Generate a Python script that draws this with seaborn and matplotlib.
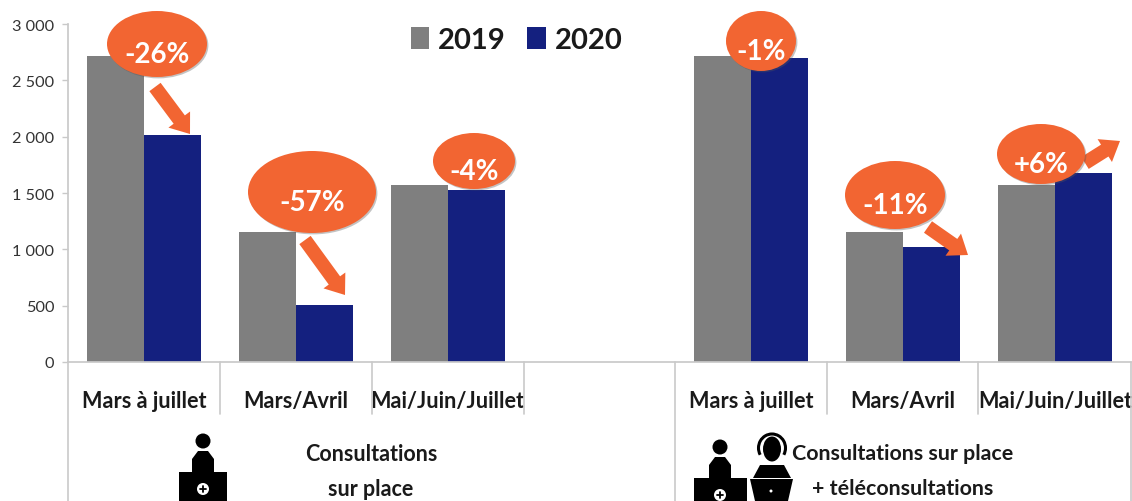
import pandas as pd
import matplotlib
matplotlib.use("Agg")
import matplotlib.pyplot as plt
import matplotlib.patheffects as pe
from matplotlib.patches import Circle, Ellipse, Polygon, Rectangle, Arc
import seaborn as sns

# ==========================================
# DATA
# ==========================================

slots = ["a1", "a2", "a3", "gap", "b1", "b2", "b3"]
slots_used = ["a1", "a2", "a3", "b1", "b2", "b3"]
values_2019 = [2720, 1150, 1575, 2720, 1150, 1575]
values_2020 = [2015, 505, 1525, 2700, 1025, 1675]
period_labels = ["Mars à juillet", "Mars/Avril", "Mai/Juin/Juillet", "",
                 "Mars à juillet", "Mars/Avril", "Mai/Juin/Juillet"]
y_ticks = [0, 500, 1000, 1500, 2000, 2500, 3000]
y_tick_labels = ["0", "500", "1 000", "1 500", "2 000", "2 500", "3 000"]

pct_labels = ["-26%", "-57%", "-4%", "-1%", "-11%", "+6%"]

GREY = "#7f7f7f"
NAVY = "#14207f"
ORANGE = "#f26532"
LINE = "#c9c9c9"
TEXT = "#1a1a1a"

W, H = 1132, 502

df = pd.DataFrame({
    "slot": slots_used * 2,
    "year": ["2019"] * 6 + ["2020"] * 6,
    "value": values_2019 + values_2020,
})

# ==========================================
# BARS
# ==========================================

sns.set_theme(style="white")
plt.rcParams["font.family"] = ["Lato", "DejaVu Sans"]

fig = plt.figure(figsize=(W / 100, H / 100), dpi=100)
ax = fig.add_axes([68 / W, 1 - 363 / H, (1131 - 68) / W, (363 - 25) / H])

sns.barplot(
    data=df, x="slot", y="value", hue="year", order=slots,
    palette={"2019": GREY, "2020": NAVY}, width=0.75, gap=0,
    saturation=1, linewidth=0, ax=ax,
)

ax.set_ylim(0, 3000)
ax.set_xlim(-0.5, 6.5)
ax.set_xlabel("")
ax.set_ylabel("")
ax.set_yticks(y_ticks)
ax.set_yticklabels(y_tick_labels, fontsize=11.7, color="#333333")
ax.set_xticks(range(7))
ax.set_xticklabels(period_labels, fontsize=15.6, fontweight="bold", color=TEXT)
ax.tick_params(axis="x", length=0, pad=20)
ax.tick_params(axis="y", length=4, width=1, color=LINE, pad=6, left=True)
ax.patch.set_alpha(0)

for side in ["top", "right"]:
    ax.spines[side].set_visible(False)
for side in ["left", "bottom"]:
    ax.spines[side].set_color(LINE)

ax.legend(
    loc="upper left", bbox_to_anchor=(0.3085, 1.034), ncols=2, frameon=False,
    handlelength=0.65, handleheight=0.75, handletextpad=0.3, columnspacing=0.72,
    prop={"size": 21, "weight": "bold"}, labelcolor=TEXT, borderpad=0,
)

# ==========================================
# ANNOTATION LAYER (pixel coordinates)
# ==========================================

over = fig.add_axes([0, 0, 1, 1], zorder=5)
over.set_xlim(0, W)
over.set_ylim(H, 0)
over.axis("off")

# multi level axis lines
for x, bottom in [(68, 502), (220, 415), (372, 415), (524, 415),
                  (675, 502), (827, 415), (978, 415), (1131, 502)]:
    over.plot([x, x], [363, bottom], color=LINE, lw=1.2)

# arrows go below the bubbles
arrows = [(155, 88, 190, 135), (305, 241, 345, 296),
          (928, 228, 968, 256), (1085, 164, 1120, 142)]
for x0, y0, x1, y1 in arrows:
    over.arrow(x0, y0, x1 - x0, y1 - y0, width=14, head_width=27, head_length=18,
               length_includes_head=True, color=ORANGE, lw=0, zorder=2)

bubbles = [(157, 45, 50, 33), (312, 193, 64, 41), (474, 162, 41, 28),
           (761, 42, 35, 30), (895, 196, 50, 34), (1041, 155, 44, 30)]
for (cx, cy, rx, ry), lab in zip(bubbles, pct_labels):
    e = Ellipse((cx, cy), 2 * rx, 2 * ry, color=ORANGE, lw=0, zorder=3)
    e.set_path_effects([pe.SimplePatchShadow(offset=(1, -1), shadow_rgbFace="#555555", alpha=0.35),
                        pe.Normal()])
    over.add_patch(e)
    over.text(cx, cy + 10, lab, color="white", fontsize=20, fontweight="bold",
              ha="center", va="center", zorder=4)

# group labels
over.text(371, 455, "Consultations", fontsize=15.5, fontweight="bold", color=TEXT, ha="center", va="center")
over.text(371, 490, "sur place", fontsize=15.5, fontweight="bold", color=TEXT, ha="center", va="center")
over.text(903, 454, "Consultations sur place", fontsize=15.4, fontweight="bold", color=TEXT, ha="center", va="center")
over.text(903, 489, "+ téléconsultations", fontsize=15.4, fontweight="bold", color=TEXT, ha="center", va="center")


def doctor(cx, head_y, desk_left, desk_right, desk_top):
    over.add_patch(Circle((cx, head_y), 7.5, color="black", lw=0))
    over.add_patch(Polygon([(cx - 11, desk_top), (cx - 11, head_y + 18), (cx - 5, head_y + 10),
                            (cx + 5, head_y + 10), (cx + 11, head_y + 18), (cx + 11, desk_top)],
                           color="black", lw=0))
    over.add_patch(Rectangle((desk_left, desk_top), desk_right - desk_left, H - desk_top, color="black", lw=0))
    over.add_patch(Circle((cx, desk_top + 17), 6, color="white", lw=0))
    over.plot([cx - 3, cx + 3], [desk_top + 17, desk_top + 17], color="black", lw=1.3)
    over.plot([cx, cx], [desk_top + 14, desk_top + 20], color="black", lw=1.3)


# icons
doctor(203, 442, 179, 227, 473)
doctor(720, 448, 694, 747, 479)

over.add_patch(Ellipse((772, 450), 18, 25, color="black", lw=0))
over.add_patch(Arc((772, 449), 27, 28, theta1=150, theta2=390, color="black", lw=2.2))
over.add_patch(Polygon([(753, 479), (760, 466), (784, 466), (791, 479)], color="black", lw=0))
over.add_patch(Polygon([(750, 480), (793, 480), (788, 502), (755, 502)], color="black", lw=0))
over.add_patch(Circle((771, 492), 1.5, color="white", lw=0))

fig.savefig("out.png", dpi=100)
